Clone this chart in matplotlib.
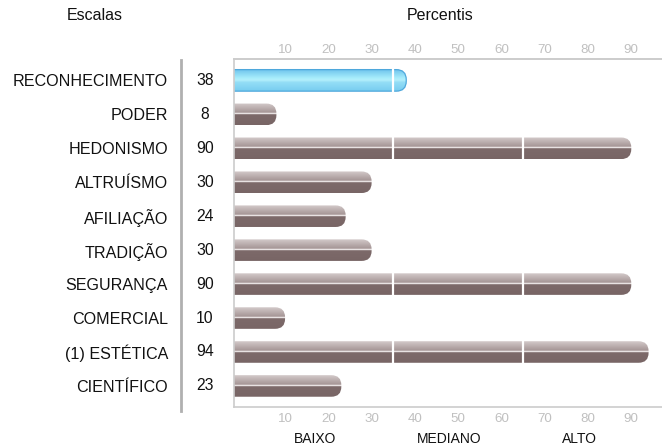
import numpy as np
import matplotlib
matplotlib.use("Agg")
import matplotlib.pyplot as plt
from matplotlib.patches import FancyBboxPatch
from matplotlib.lines import Line2D
from matplotlib import transforms
from matplotlib.colors import to_rgb

plt.rcParams['font.family'] = ['Liberation Sans', 'DejaVu Sans']

# ---- data ----
scales = ["RECONHECIMENTO", "PODER", "HEDONISMO", "ALTRUÍSMO", "AFILIAÇÃO",
          "TRADIÇÃO", "SEGURANÇA", "COMERCIAL", "(1) ESTÉTICA", "CIENTÍFICO"]
percentiles = [38, 8, 90, 30, 24, 30, 90, 10, 94, 23]
highlighted = "RECONHECIMENTO"
percentile_ticks = [10, 20, 30, 40, 50, 60, 70, 80, 90]
band_names = ["BAIXO", "MEDIANO", "ALTO"]
band_limits = [35, 65]

# ---- layout (pixels) ----
W, H = 662, 448
AX_L, AX_R, AX_T, AX_B = 234, 662, 59, 407
XMIN, XMAX = -1.8, 97.1
n = len(scales)
YLIM = (n - 0.38, -0.63)
BAR_H = 0.635
CAP_PX = 10.0
band_label_x = [17, 48, 78]

fig = plt.figure(figsize=(W / 100, H / 100), dpi=100)
ax = fig.add_axes([AX_L / W, 1 - AX_B / H, (AX_R - AX_L) / W, (AX_B - AX_T) / H])
ax.set_xlim(XMIN, XMAX)
ax.set_ylim(*YLIM)

px_per_x = (AX_R - AX_L) / (XMAX - XMIN)
px_per_y = (AX_B - AX_T) / abs(YLIM[0] - YLIM[1])
r_x = CAP_PX / px_per_x
aspect = (CAP_PX / px_per_y) / r_x


def gradient(stops, rows=120):
    """Build a vertical RGB column from (fraction, colour) stops."""
    fr = np.linspace(0, 1, rows)
    pos = [s[0] for s in stops]
    cols = np.array([to_rgb(s[1]) for s in stops])
    out = np.stack([np.interp(fr, pos, cols[:, k]) for k in range(3)], axis=-1)
    return np.repeat(out[:, None, :], 2, axis=1)


brown = gradient([(0.0, "#d4caca"), (0.44, "#a49494"), (0.45, "#f6f2f2"),
                  (0.50, "#f6f2f2"), (0.51, "#7d6a6a"), (1.0, "#786565")])
blue = gradient([(0.0, "#6cc2ec"), (0.40, "#a6ecfb"), (0.5, "#b4f0fc"),
                 (0.6, "#94def6"), (1.0, "#78cdf0")])

for i, (name, v) in enumerate(zip(scales, percentiles)):
    x0 = XMIN - 2 * r_x
    top, bot = i - BAR_H / 2, i + BAR_H / 2
    shape = FancyBboxPatch((x0, top), v - x0, BAR_H,
                           boxstyle=f"round,pad=0,rounding_size={r_x}",
                           mutation_aspect=aspect, transform=ax.transData,
                           fc="none", ec="none")
    img = blue if name == highlighted else brown
    im = ax.imshow(img, extent=(x0, v, bot, top), aspect="auto",
                   interpolation="bilinear", zorder=2)
    im.set_clip_path(shape)
    if name == highlighted:
        edge = FancyBboxPatch((x0, top), v - x0, BAR_H,
                              boxstyle=f"round,pad=0,rounding_size={r_x}",
                              mutation_aspect=aspect, fc="none",
                              ec="#4ea8dc", lw=0.9, zorder=2.5)
        ax.add_patch(edge)

ax.set_xlim(XMIN, XMAX)
ax.set_ylim(*YLIM)

# band boundaries cut through the bars
ax.vlines(band_limits, -0.5, n - 0.5, colors="white", lw=1.6, zorder=3)

# spines
for s in ["top", "bottom", "left"]:
    ax.spines[s].set_color("#cccccc")
    ax.spines[s].set_linewidth(1.2)
ax.spines["right"].set_visible(False)

# category labels
ax.set_yticks(range(n), scales)
ax.tick_params(axis="y", length=0, pad=47.5, labelsize=11.6, labelcolor="#111111")

# percentile ticks, bottom and top
tick_grey = "#c0c0c0"
ax.set_xticks(percentile_ticks)
ax.tick_params(axis="x", length=0, pad=4, labelsize=9.6, labelcolor=tick_grey)
sec = ax.secondary_xaxis("top")
sec.set_xticks(percentile_ticks)
sec.tick_params(length=0, pad=2, labelsize=9.6, labelcolor=tick_grey)
sec.spines["top"].set_color("#cccccc")
sec.spines["top"].set_linewidth(1.2)

# value column
val_tr = transforms.blended_transform_factory(fig.transFigure, ax.transData)
for i, v in enumerate(percentiles):
    ax.text(205 / W, i, str(v), transform=val_tr, ha="center", va="center",
            fontsize=11.3, color="#111111", clip_on=False)

# separator between names and values
fig.add_artist(Line2D([181 / W, 181 / W], [1 - 60 / H, 1 - 411 / H],
                      color="#b0b0b0", lw=2))

# band names under the axis
band_tr = transforms.blended_transform_factory(ax.transData, fig.transFigure)
for name, x in zip(band_names, band_label_x):
    ax.text(x, 1 - 439 / H, name, transform=band_tr, ha="center", va="center",
            fontsize=10, color="#111111", clip_on=False)

# column headers
fig.text(95 / W, 1 - 15 / H, "Escalas", ha="center", va="center",
         fontsize=11.5, color="#111111")
fig.text(440 / W, 1 - 15 / H, "Percentis", ha="center", va="center",
         fontsize=11.5, color="#111111")

fig.savefig("out.png", dpi=100)
